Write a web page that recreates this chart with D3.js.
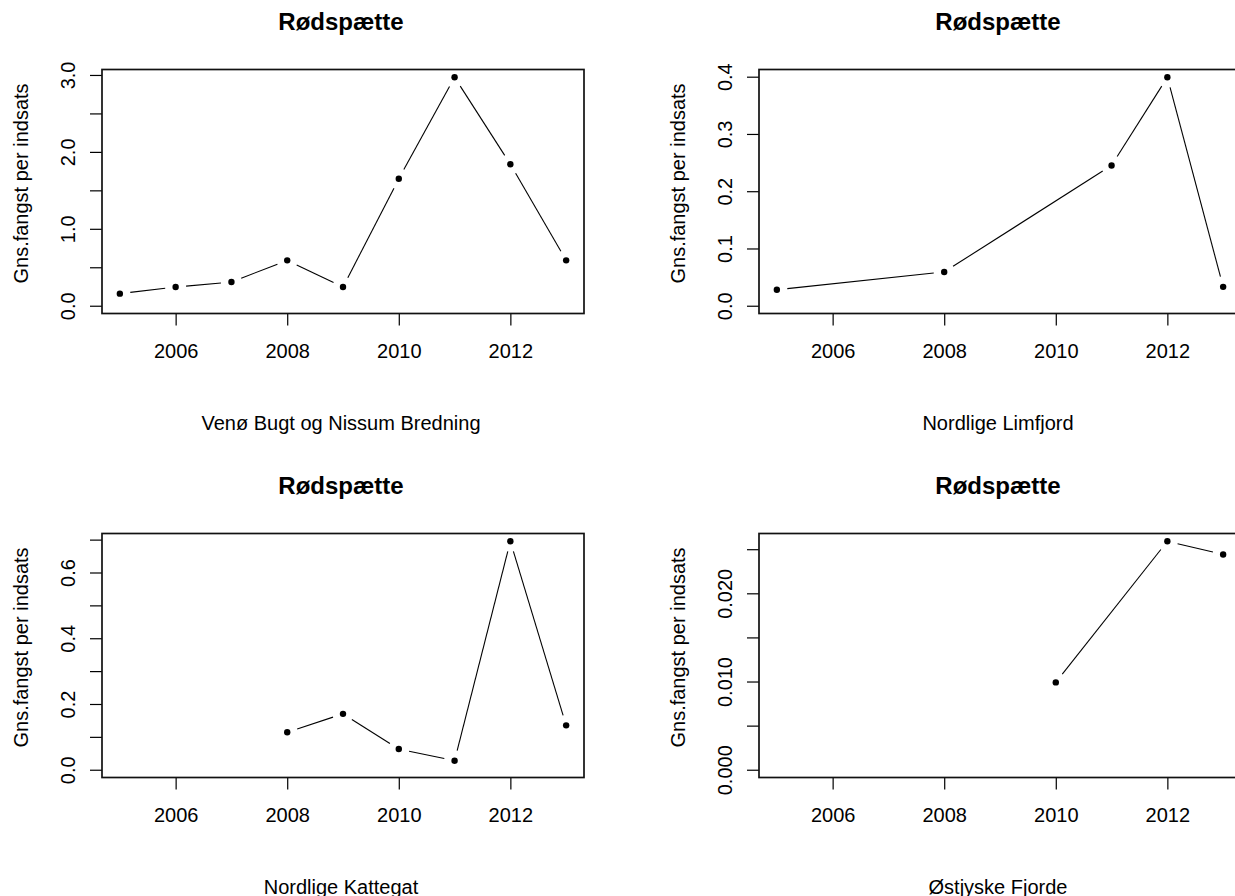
<!DOCTYPE html>
<html>
<head>
<meta charset="utf-8">
<script src="https://cdn.jsdelivr.net/npm/d3@7"></script>
<style>
  body { margin: 0; background: #fff; }
  svg text { font-family: "Liberation Sans", Arial, sans-serif; fill: #000; }
  .tick text { font-size: 20px; }
  .axis-title { font-size: 20px; }
  .main-title { font-size: 24px; font-weight: bold; }
</style>
</head>
<body>
<div id="chart"></div>
<script>
// Rødspætte: mean catch per effort in four areas
const mainTitle = 'Rødspætte';
const yTitle = 'Gns.fangst per indsats';

const venoeYears = [2005, 2006, 2007, 2008, 2009, 2010, 2011, 2012, 2013];
const venoeValues = [0.157, 0.243, 0.308, 0.59, 0.243, 1.65, 2.97, 1.84, 0.59];

const limfjordYears = [2005, 2008, 2011, 2012, 2013];
const limfjordValues = [0.028, 0.059, 0.245, 0.399, 0.033];

const kattegatYears = [2008, 2009, 2010, 2011, 2012, 2013];
const kattegatValues = [0.114, 0.170, 0.063, 0.0275, 0.695, 0.135];

const fjordeYears = [2010, 2012, 2013];
const fjordeValues = [0.0099, 0.0259, 0.0244];

const areaNames = ['Venø Bugt og Nissum Bredning', 'Nordlige Limfjord', 'Nordlige Kattegat', 'Østjyske Fjorde'];

// x axis is the same in every panel
const xLimits = [2005, 2013];
const xTickValues = [2006, 2008, 2010, 2012];

// y ticks and which of them carry a label (R drops the ones that would crowd)
const yTicks1 = [0, 0.5, 1.0, 1.5, 2.0, 2.5, 3.0];
const yLabels1 = [0, 1.0, 2.0, 3.0];
const yTicks2 = [0, 0.1, 0.2, 0.3, 0.4];
const yLabels2 = [0, 0.1, 0.2, 0.3, 0.4];
const yTicks3 = [0, 0.1, 0.2, 0.3, 0.4, 0.5, 0.6, 0.7];
const yLabels3 = [0, 0.2, 0.4, 0.6];
const yTicks4 = [0, 0.005, 0.010, 0.015, 0.020, 0.025];
const yLabels4 = [0, 0.010, 0.020];

const panels = [
    { years: venoeYears, values: venoeValues, name: areaNames[0], ticks: yTicks1, labels: yLabels1, fmt: '.1f', col: 0, row: 0 },
    { years: limfjordYears, values: limfjordValues, name: areaNames[1], ticks: yTicks2, labels: yLabels2, fmt: '.1f', col: 1, row: 0 },
    { years: kattegatYears, values: kattegatValues, name: areaNames[2], ticks: yTicks3, labels: yLabels3, fmt: '.1f', col: 0, row: 1 },
    { years: fjordeYears, values: fjordeValues, name: areaNames[3], ticks: yTicks4, labels: yLabels4, fmt: '.3f', col: 1, row: 1 }
];

const width = 1235;
const height = 896;
const boxLeft = [102, 759];
const boxTop = [69.5, 533.5];
const boxW = 482;
const boxH = 244;
const yPad = 0.034; // padding of the y range, fitted to the picture
const gap = 10.5;   // type = "b": lines stop short of the points

const svg = d3.select('#chart')
    .append('svg')
    .attr('width', width)
    .attr('height', height);

svg.append('rect').attr('width', width).attr('height', height).attr('fill', '#fff');

function drawPanel(p) {
    const x0 = boxLeft[p.col];
    const y0 = boxTop[p.row];
    const g = svg.append('g').attr('transform', `translate(${x0}, ${y0})`);

    // R pads the data range by 4% on both sides
    const xPad = (xLimits[1] - xLimits[0]) * 0.04;
    const xScale = d3.scaleLinear()
        .domain([xLimits[0] - xPad, xLimits[1] + xPad])
        .range([0, boxW]);

    const yMax = d3.max(p.values);
    const yScale = d3.scaleLinear()
        .domain([-yPad * yMax, (1 + yPad) * yMax])
        .range([boxH, 0]);

    const fmt = d3.format(p.fmt);

    // x axis
    const xAxis = g.append('g')
        .attr('transform', `translate(0, ${boxH})`)
        .call(d3.axisBottom(xScale).tickValues(xTickValues).tickSize(12).tickPadding(18.5).tickFormat(d3.format('d')));
    xAxis.select('.domain').remove();

    // y axis, labels turned parallel to the axis
    const yAxis = g.append('g')
        .call(d3.axisLeft(yScale).tickValues(p.ticks).tickSize(12)
            .tickFormat(d => p.labels.some(l => Math.abs(l - d) < 1e-9) ? fmt(d) : ''));
    yAxis.select('.domain').remove();
    yAxis.selectAll('.tick text')
        .attr('x', null).attr('dy', null)
        .attr('text-anchor', 'middle')
        .attr('transform', 'translate(-27, 0) rotate(-90)');

    g.selectAll('.tick line').attr('stroke', '#000').attr('stroke-width', 1.2);

    // plot box
    g.append('rect')
        .attr('width', boxW)
        .attr('height', boxH)
        .attr('fill', 'none')
        .attr('stroke', '#111')
        .attr('stroke-width', 1.7);

    const pts = p.years.map((yr, i) => [xScale(yr), yScale(p.values[i])]);

    // line pieces with gaps around each point
    const segs = [];
    for (let i = 0; i < pts.length - 1; i++) {
        const [ax, ay] = pts[i];
        const [bx, by] = pts[i + 1];
        const len = Math.hypot(bx - ax, by - ay);
        if (len <= 2 * gap) continue;
        const ux = (bx - ax) / len, uy = (by - ay) / len;
        segs.push([ax + ux * gap, ay + uy * gap, bx - ux * gap, by - uy * gap]);
    }
    g.selectAll('line.seg')
        .data(segs)
        .enter()
        .append('line')
        .attr('class', 'seg')
        .attr('x1', d => d[0]).attr('y1', d => d[1])
        .attr('x2', d => d[2]).attr('y2', d => d[3])
        .attr('stroke', '#000')
        .attr('stroke-width', 1.1);

    g.selectAll('circle')
        .data(pts)
        .enter()
        .append('circle')
        .attr('cx', d => d[0])
        .attr('cy', d => d[1])
        .attr('r', 3.2)
        .attr('fill', '#000');

    // titles
    g.append('text')
        .attr('class', 'main-title')
        .attr('text-anchor', 'middle')
        .attr('x', boxW / 2 - 2)
        .attr('y', -39.5)
        .text(mainTitle);

    g.append('text')
        .attr('class', 'axis-title')
        .attr('text-anchor', 'middle')
        .attr('x', boxW / 2 - 2)
        .attr('y', boxH + 116)
        .text(p.name);

    g.append('text')
        .attr('class', 'axis-title')
        .attr('text-anchor', 'middle')
        .attr('transform', `translate(-74, ${boxH / 2 - 8}) rotate(-90)`)
        .text(yTitle);
}

panels.forEach(drawPanel);
</script>
</body>
</html>
